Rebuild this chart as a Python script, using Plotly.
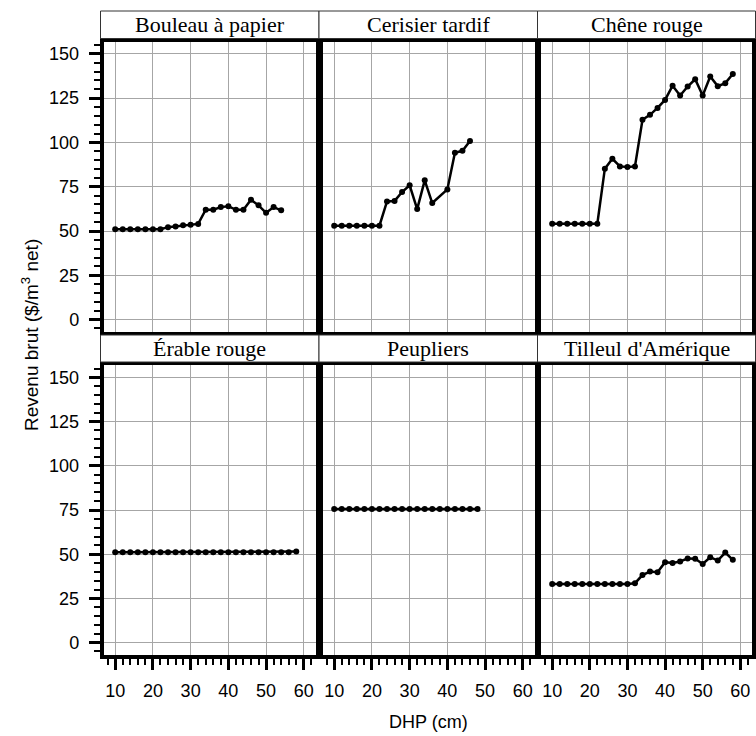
import plotly.graph_objects as go

species = ["Bouleau à papier", "Cerisier tardif", "Chêne rouge",
           "Érable rouge", "Peupliers", "Tilleul d'Amérique"]

dhp_bouleau = [10, 12, 14, 16, 18, 20, 22, 24, 26, 28, 30, 32, 34, 36, 38, 40, 42, 44, 46, 48, 50, 52, 54]
rev_bouleau = [51, 51, 51, 51, 51, 51, 51, 52.2, 52.6, 53.2, 53.6, 54, 62, 62, 63.5, 64, 62, 62, 67.7, 64.5, 60.3, 63.5, 61.7]

dhp_cerisier = [10, 12, 14, 16, 18, 20, 22, 24, 26, 28, 30, 32, 34, 36, 40, 42, 44, 46]
rev_cerisier = [53, 53, 53, 53, 53, 53, 53, 66.7, 67, 72, 75.8, 62.4, 78.6, 65.8, 73.5, 94.2, 95.3, 100.8]

dhp_chene = [10, 12, 14, 16, 18, 20, 22, 24, 26, 28, 30, 32, 34, 36, 38, 40, 42, 44, 46, 48, 50, 52, 54, 56, 58]
rev_chene = [54.1, 54.1, 54.1, 54.1, 54.1, 54.1, 54.1, 85.2, 90.8, 86.5, 86.1, 86.5, 112.8, 115.6, 119.5, 124,
             132, 126.5, 131.6, 135.7, 126.5, 137.2, 131.8, 133.5, 138.7]

dhp_erable = [10, 12, 14, 16, 18, 20, 22, 24, 26, 28, 30, 32, 34, 36, 38, 40, 42, 44, 46, 48, 50, 52, 54, 56, 58]
rev_erable = [51.1, 51.1, 51.1, 51.1, 51.1, 51.1, 51.1, 51.1, 51.1, 51.1, 51.1, 51.1, 51.1, 51.1, 51.1, 51.1,
              51.1, 51.1, 51.1, 51.1, 51.1, 51.1, 51.1, 51.1, 51.5]

dhp_peupliers = [10, 12, 14, 16, 18, 20, 22, 24, 26, 28, 30, 32, 34, 36, 38, 40, 42, 44, 46, 48]
rev_peupliers = [75.5, 75.5, 75.5, 75.5, 75.5, 75.5, 75.5, 75.5, 75.5, 75.5, 75.5, 75.5, 75.5, 75.5, 75.5, 75.5,
                 75.5, 75.5, 75.5, 75.5]

dhp_tilleul = [10, 12, 14, 16, 18, 20, 22, 24, 26, 28, 30, 32, 34, 36, 38, 40, 42, 44, 46, 48, 50, 52, 54, 56, 58]
rev_tilleul = [33.1, 33.1, 33.1, 33.1, 33.1, 33.1, 33.1, 33.1, 33.1, 33.1, 33.1, 33.6, 38.2, 40.2, 39.8, 45.5,
               45, 45.9, 47.6, 47.4, 44.5, 48.3, 46.4, 50.9, 46.8]

x_ticks = [10, 20, 30, 40, 50, 60]
y_ticks = [0, 25, 50, 75, 100, 125, 150]

series = [(dhp_bouleau, rev_bouleau), (dhp_cerisier, rev_cerisier), (dhp_chene, rev_chene),
          (dhp_erable, rev_erable), (dhp_peupliers, rev_peupliers), (dhp_tilleul, rev_tilleul)]

W, H = 756, 736
cols_px = [(103.5, 315.5), (322.5, 534.5), (540.5, 752)]
rows_px = [(41.5, 332), (365, 655)]
strip_x = [(100.5, 319), (319, 537.5), (537.5, 755.5)]
strip_y = [(11, 38.5), (335, 362)]

SANS = "Liberation Sans, Arial, sans-serif"
SERIF = "Liberation Serif, Times New Roman, serif"


def px_x(v):
    return v / W


def px_y(v):
    return 1 - v / H


fig = go.Figure()
layout = dict(
    width=W, height=H,
    margin=dict(l=0, r=0, t=0, b=0),
    paper_bgcolor="white", plot_bgcolor="white",
    showlegend=False,
    font=dict(family=SANS, size=18, color="black"),
)
shapes = []
annotations = []

for i, (xs, ys) in enumerate(series):
    r, c = divmod(i, 3)
    n = i + 1
    xa = "x" if n == 1 else f"x{n}"
    ya = "y" if n == 1 else f"y{n}"
    fig.add_trace(go.Scatter(
        x=xs, y=ys, xaxis=xa, yaxis=ya, mode="lines+markers",
        line=dict(color="black", width=2.5),
        marker=dict(color="black", size=6),
        hoverinfo="skip",
    ))
    x0, x1 = cols_px[c]
    y0, y1 = rows_px[r]
    xkey = "xaxis" if n == 1 else f"xaxis{n}"
    ykey = "yaxis" if n == 1 else f"yaxis{n}"
    bottom = (r == 1)
    left = (c == 0)
    xaxis = dict(
        domain=[px_x(x0), px_x(x1)], anchor=ya, range=[6.9, 63.1],
        tickvals=x_ticks, showgrid=True, gridcolor="#a6a6a6", gridwidth=1,
        zeroline=False, showline=True, linecolor="black", linewidth=3.5, mirror=True,
        showticklabels=bottom, ticks="outside" if bottom else "",
        ticklen=11, tickwidth=2.5, tickcolor="black",
        tickfont=dict(family=SANS, size=18, color="black"),
    )
    if bottom:
        xaxis["minor"] = dict(dtick=2, ticks="outside", ticklen=6, tickwidth=2, tickcolor="black", showgrid=False)
        xaxis["ticklabelstandoff"] = 6
    yaxis = dict(
        domain=[px_y(y1), px_y(y0)], anchor=xa, range=[-7, 157],
        tickvals=y_ticks, showgrid=True, gridcolor="#a6a6a6", gridwidth=1,
        zeroline=False, showline=True, linecolor="black", linewidth=3.5, mirror=True,
        showticklabels=left, ticks="outside" if left else "",
        ticklen=11, tickwidth=2.5, tickcolor="black",
        tickfont=dict(family=SANS, size=18, color="black"),
    )
    if left:
        yaxis["minor"] = dict(dtick=5, ticks="outside", ticklen=6, tickwidth=2, tickcolor="black", showgrid=False)
        yaxis["ticklabelstandoff"] = 6
    layout[xkey] = xaxis
    layout[ykey] = yaxis

    sx0, sx1 = strip_x[c]
    sy0, sy1 = strip_y[r]
    shapes.append(dict(type="rect", xref="paper", yref="paper",
                       x0=px_x(sx0), x1=px_x(sx1), y0=px_y(sy1), y1=px_y(sy0),
                       line=dict(color="#333333", width=1), fillcolor="white", layer="above"))
    annotations.append(dict(text=species[i], xref="paper", yref="paper",
                            x=px_x((sx0 + sx1) / 2), y=px_y((sy0 + sy1) / 2),
                            xanchor="center", yanchor="middle", showarrow=False,
                            font=dict(family=SERIF, size=22, color="black")))

annotations.append(dict(text="Revenu brut ($/m<sup>3</sup> net)", xref="paper", yref="paper",
                        x=px_x(30), y=px_y(335), textangle=-90, showarrow=False,
                        xanchor="center", yanchor="middle",
                        font=dict(family=SANS, size=19, color="black")))
annotations.append(dict(text="DHP (cm)", xref="paper", yref="paper",
                        x=px_x(428), y=px_y(722), showarrow=False,
                        xanchor="center", yanchor="middle",
                        font=dict(family=SANS, size=18, color="black")))

layout["shapes"] = shapes
layout["annotations"] = annotations
fig.update_layout(**layout)
fig.write_html("out.html", config={"displayModeBar": False},
               post_script="document.body.style.margin='0';document.body.style.overflow='hidden';")
